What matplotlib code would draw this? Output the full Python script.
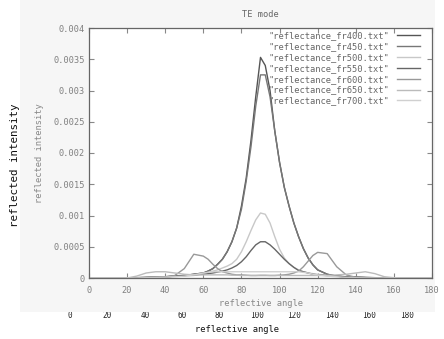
import matplotlib.pyplot as plt
import numpy as np
from matplotlib.patches import Rectangle

# reflective angle (deg): 5 deg steps on the flanks, 2.5 deg around the peak
angle = list(range(0, 60, 5)) + [60 + 2.5 * i for i in range(24)] + list(range(120, 185, 5))

# reflected intensity, in units of 1e-4
fr400 = [0, 0, 0, 0, 0, 0.05, 0.1, 0.15, 0.2, 0.3, 0.4, 0.6,
         0.8, 1.1, 1.5, 2.2, 3.0, 4.2, 5.8, 8.0, 11.5, 16.0, 22.0, 29.0,
         35.3, 34.0, 30.0, 23.5, 18.5, 14.5, 11.5, 8.8, 6.6, 4.7, 3.2, 2.1,
         1.3, 0.6, 0.3, 0.15, 0.1, 0.05, 0, 0, 0, 0, 0, 0, 0]
fr450 = [0, 0, 0, 0, 0, 0.05, 0.1, 0.15, 0.2, 0.3, 0.4, 0.6,
         0.8, 1.1, 1.5, 2.2, 3.0, 4.2, 5.8, 8.0, 11.0, 15.5, 21.0, 27.5,
         32.5, 32.5, 29.0, 23.5, 18.5, 14.5, 11.5, 8.8, 6.6, 4.7, 3.2, 2.1,
         1.3, 0.6, 0.3, 0.15, 0.1, 0.05, 0, 0, 0, 0, 0, 0, 0]
fr500 = [0, 0, 0, 0, 0, 0, 0.05, 0.1, 0.2, 0.25, 0.3, 0.4,
         0.7, 0.9, 1.1, 1.3, 1.6, 1.9, 2.3, 3.0, 4.2, 5.8, 7.6, 9.3,
         10.4, 10.2, 8.8, 6.6, 4.6, 3.2, 2.3, 1.7, 1.3, 1.0, 0.8, 0.7,
         0.6, 0.4, 0.3, 0.2, 0.15, 0.1, 0.05, 0, 0, 0, 0, 0, 0]
fr550 = [0, 0, 0, 0, 0, 0, 0.05, 0.1, 0.2, 0.3, 0.4, 0.5,
         0.6, 0.7, 0.8, 0.95, 1.1, 1.3, 1.6, 2.0, 2.6, 3.4, 4.4, 5.3,
         5.8, 5.8, 5.3, 4.6, 3.8, 3.0, 2.3, 1.7, 1.2, 1.0, 0.8, 0.6,
         0.5, 0.4, 0.3, 0.2, 0.15, 0.1, 0.05, 0, 0, 0, 0, 0, 0]
fr600 = [0, 0, 0, 0, 0, 0, 0.02, 0.05, 0.1, 0.4, 1.5, 3.8,
         3.5, 3.0, 2.2, 1.5, 1.0, 0.8, 0.6, 0.5, 0.5, 0.45, 0.4, 0.4,
         0.4, 0.4, 0.4, 0.4, 0.45, 0.5, 0.6, 0.8, 1.1, 1.8, 2.7, 3.6,
         4.1, 3.9, 1.8, 0.5, 0.1, 0.05, 0, 0, 0, 0, 0, 0, 0]
fr650 = [0, 0, 0, 0, 0, 0.3, 0.8, 1.0, 1.0, 0.8, 0.6, 0.5,
         0.5, 0.5, 0.5, 0.5, 0.5, 0.5, 0.45, 0.45, 0.4, 0.4, 0.4, 0.4,
         0.45, 0.45, 0.4, 0.4, 0.4, 0.4, 0.4, 0.4, 0.4, 0.4, 0.4, 0.4,
         0.4, 0.4, 0.5, 0.6, 0.8, 1.0, 0.7, 0.2, 0.05, 0, 0, 0, 0]
fr700 = [0, 0, 0, 0, 0, 0, 0.05, 0.1, 0.15, 0.2, 0.3, 0.5,
         0.8, 0.9, 1.0, 1.0, 1.0, 1.0, 1.0, 1.0, 1.0, 1.0, 1.0, 1.0,
         1.0, 1.0, 1.0, 1.0, 1.0, 1.0, 1.0, 1.0, 1.0, 0.9, 0.8, 0.6,
         0.5, 0.3, 0.2, 0.1, 0.05, 0, 0, 0, 0, 0, 0, 0, 0]

series = [fr400, fr450, fr500, fr550, fr600, fr650, fr700]
labels = ['"reflectance_fr400.txt"', '"reflectance_fr450.txt"', '"reflectance_fr500.txt"',
          '"reflectance_fr550.txt"', '"reflectance_fr600.txt"', '"reflectance_fr650.txt"',
          '"reflectance_fr700.txt"']
colors = ['#555555', '#777777', '#c8c8c8', '#666666', '#999999', '#bbbbbb', '#d0d0d0']

yticks = [0, 0.0005, 0.001, 0.0015, 0.002, 0.0025, 0.003, 0.0035, 0.004]
ytick_labels = ['0', '0.0005', '0.001', '0.0015', '0.002', '0.0025', '0.003', '0.0035', '0.004']
xticks = list(range(0, 200, 20))
outer_xlabels = [str(t) for t in xticks]

MONO = 'DejaVu Sans Mono'
W, H = 444, 339
fig = plt.figure(figsize=(W / 100, H / 100), dpi=100)
fig.patch.set_facecolor('white')

# greyish scanned page behind the plot
fig.patches.append(Rectangle((20 / W, 1 - 312 / H), 415 / W, 312 / H, transform=fig.transFigure,
                             facecolor='#f6f6f6', edgecolor='none', zorder=1))

# outer tick labels, partly hidden under the scan
for i, lab in enumerate(outer_xlabels):
    fig.text((70 + i * 37.4) / W, 1 - 315 / H, lab, fontsize=5.5, family=MONO, color='#222222',
             ha='center', va='center', zorder=0)
fig.text(237 / W, 1 - 329 / H, 'reflective angle', fontsize=6.3, family=MONO, color='#111111',
         ha='center', va='center', zorder=3)
fig.text(15 / W, 1 - 165 / H, 'reflected intensity', fontsize=7.8, family=MONO, color='#111111',
         rotation=90, ha='center', va='center', zorder=3)

ax = fig.add_axes([89 / W, 1 - 278 / H, 343 / W, 250 / H], zorder=5)
ax.set_facecolor('white')
for vals, lab, c in zip(series, labels, colors):
    if len(vals) != len(angle):
        raise ValueError(lab)
    ax.plot(angle, np.array(vals) * 1e-4, color=c, lw=1.0, label=lab)

ax.set_xlim(0, 180)
ax.set_ylim(0, 0.004)
ax.set_xticks(xticks)
ax.set_yticks(yticks)
ax.set_yticklabels(ytick_labels)
ax.tick_params(direction='in', length=3.5, top=True, right=True, labelsize=6.2,
               colors='#888888', labelcolor='#808080')
ax.tick_params(axis='x', pad=6)
ax.tick_params(axis='y', pad=3)
for t in ax.get_xticklabels() + ax.get_yticklabels():
    t.set_family(MONO)
for s in ax.spines.values():
    s.set_color('#666666')
    s.set_linewidth(0.9)

ax.set_title('TE mode', fontsize=6.2, family=MONO, color='#666666', pad=8)
ax.set_xlabel('reflective angle', fontsize=6.3, family=MONO, color='#888888', labelpad=3)
ax.set_ylabel('reflected intensity', fontsize=6.3, family=MONO, color='#888888', labelpad=7)

ax.legend(loc='upper right', bbox_to_anchor=(0.965, 0.988), frameon=False, markerfirst=False,
          prop={'family': MONO, 'size': 6.3}, handlelength=2.6, handletextpad=0.9,
          labelspacing=0.22, borderaxespad=0, borderpad=0, labelcolor='#666666')

fig.savefig('out.png', dpi=100, facecolor='white')
